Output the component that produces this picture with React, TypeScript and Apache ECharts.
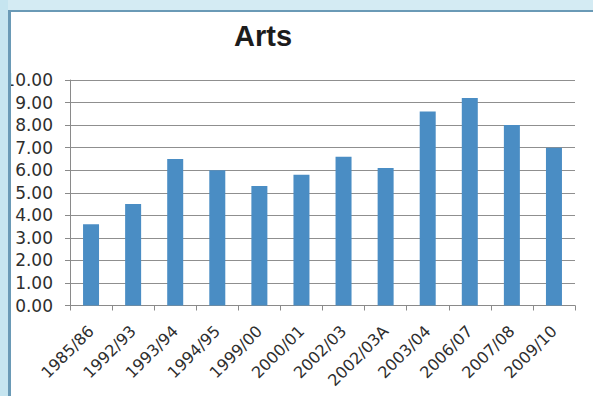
import React, { useEffect, useRef } from "react";
import * as echarts from "echarts";

const categories = [
  "1985/86", "1992/93", "1993/94", "1994/95", "1999/00", "2000/01",
  "2002/03", "2002/03A", "2003/04", "2006/07", "2007/08", "2009/10",
];
const values = [3.6, 4.5, 6.5, 6.0, 5.3, 5.8, 6.6, 6.1, 8.6, 9.2, 8.0, 7.0];
const yTicks = { min: 0, max: 10, interval: 1 };
const titleText = "Arts";

export default function App() {
  const ref = useRef<HTMLDivElement>(null);
  useEffect(() => {
    if (!ref.current) return;
    const chart = echarts.init(ref.current, null, { renderer: "svg" });
    chart.setOption({
      animation: false,
      backgroundColor: "#ffffff",
      title: {
        text: titleText,
        left: 229,
        top: 16,
        textStyle: {
          fontFamily: "Liberation Sans",
          fontWeight: "bold",
          fontSize: 29,
          color: "#1c1c1c",
        },
      },
      grid: { left: 70, right: 18, top: 80, bottom: 90.5, containLabel: false },
      xAxis: {
        type: "category",
        data: categories,
        axisLine: { lineStyle: { color: "#8a8a8a", width: 1 } },
        axisTick: { show: true, length: 5, lineStyle: { color: "#8a8a8a" } },
        axisLabel: {
          rotate: 45,
          interval: 0,
          margin: 23,
          fontFamily: "DejaVu Sans",
          fontSize: 16,
          color: "#2e2e2e",
        },
      },
      yAxis: {
        type: "value",
        min: yTicks.min,
        max: yTicks.max,
        interval: yTicks.interval,
        axisLine: { show: true, lineStyle: { color: "#8a8a8a", width: 1 } },
        axisTick: { show: true, length: 5, lineStyle: { color: "#8a8a8a" } },
        splitLine: { lineStyle: { color: "#8f8f8f", width: 1 } },
        axisLabel: {
          margin: 17,
          fontFamily: "DejaVu Sans",
          fontSize: 17,
          color: "#2e2e2e",
          formatter: (v: number) => v.toFixed(2),
        },
      },
      series: [
        {
          type: "bar",
          data: values,
          barWidth: 16,
          itemStyle: { color: "#4a8dc4" },
        },
      ],
      graphic: [
        { type: "rect", z: 100, shape: { x: 0, y: 0, width: 593, height: 10 }, style: { fill: "#d4ebf3" } },
        { type: "rect", z: 100, shape: { x: 0, y: 0, width: 8, height: 396 }, style: { fill: "#c6e5f0" } },
        { type: "rect", z: 101, shape: { x: 8, y: 10, width: 3, height: 386 }, style: { fill: "#6a9ab6" } },
        { type: "rect", z: 101, shape: { x: 8, y: 10, width: 585, height: 2 }, style: { fill: "#6a9ab6" } },
      ],
    });
    return () => chart.dispose();
  }, []);
  return (
    <div
      ref={ref}
      style={{ position: "fixed", left: 0, top: 0, width: 593, height: 396 }}
    />
  );
}
